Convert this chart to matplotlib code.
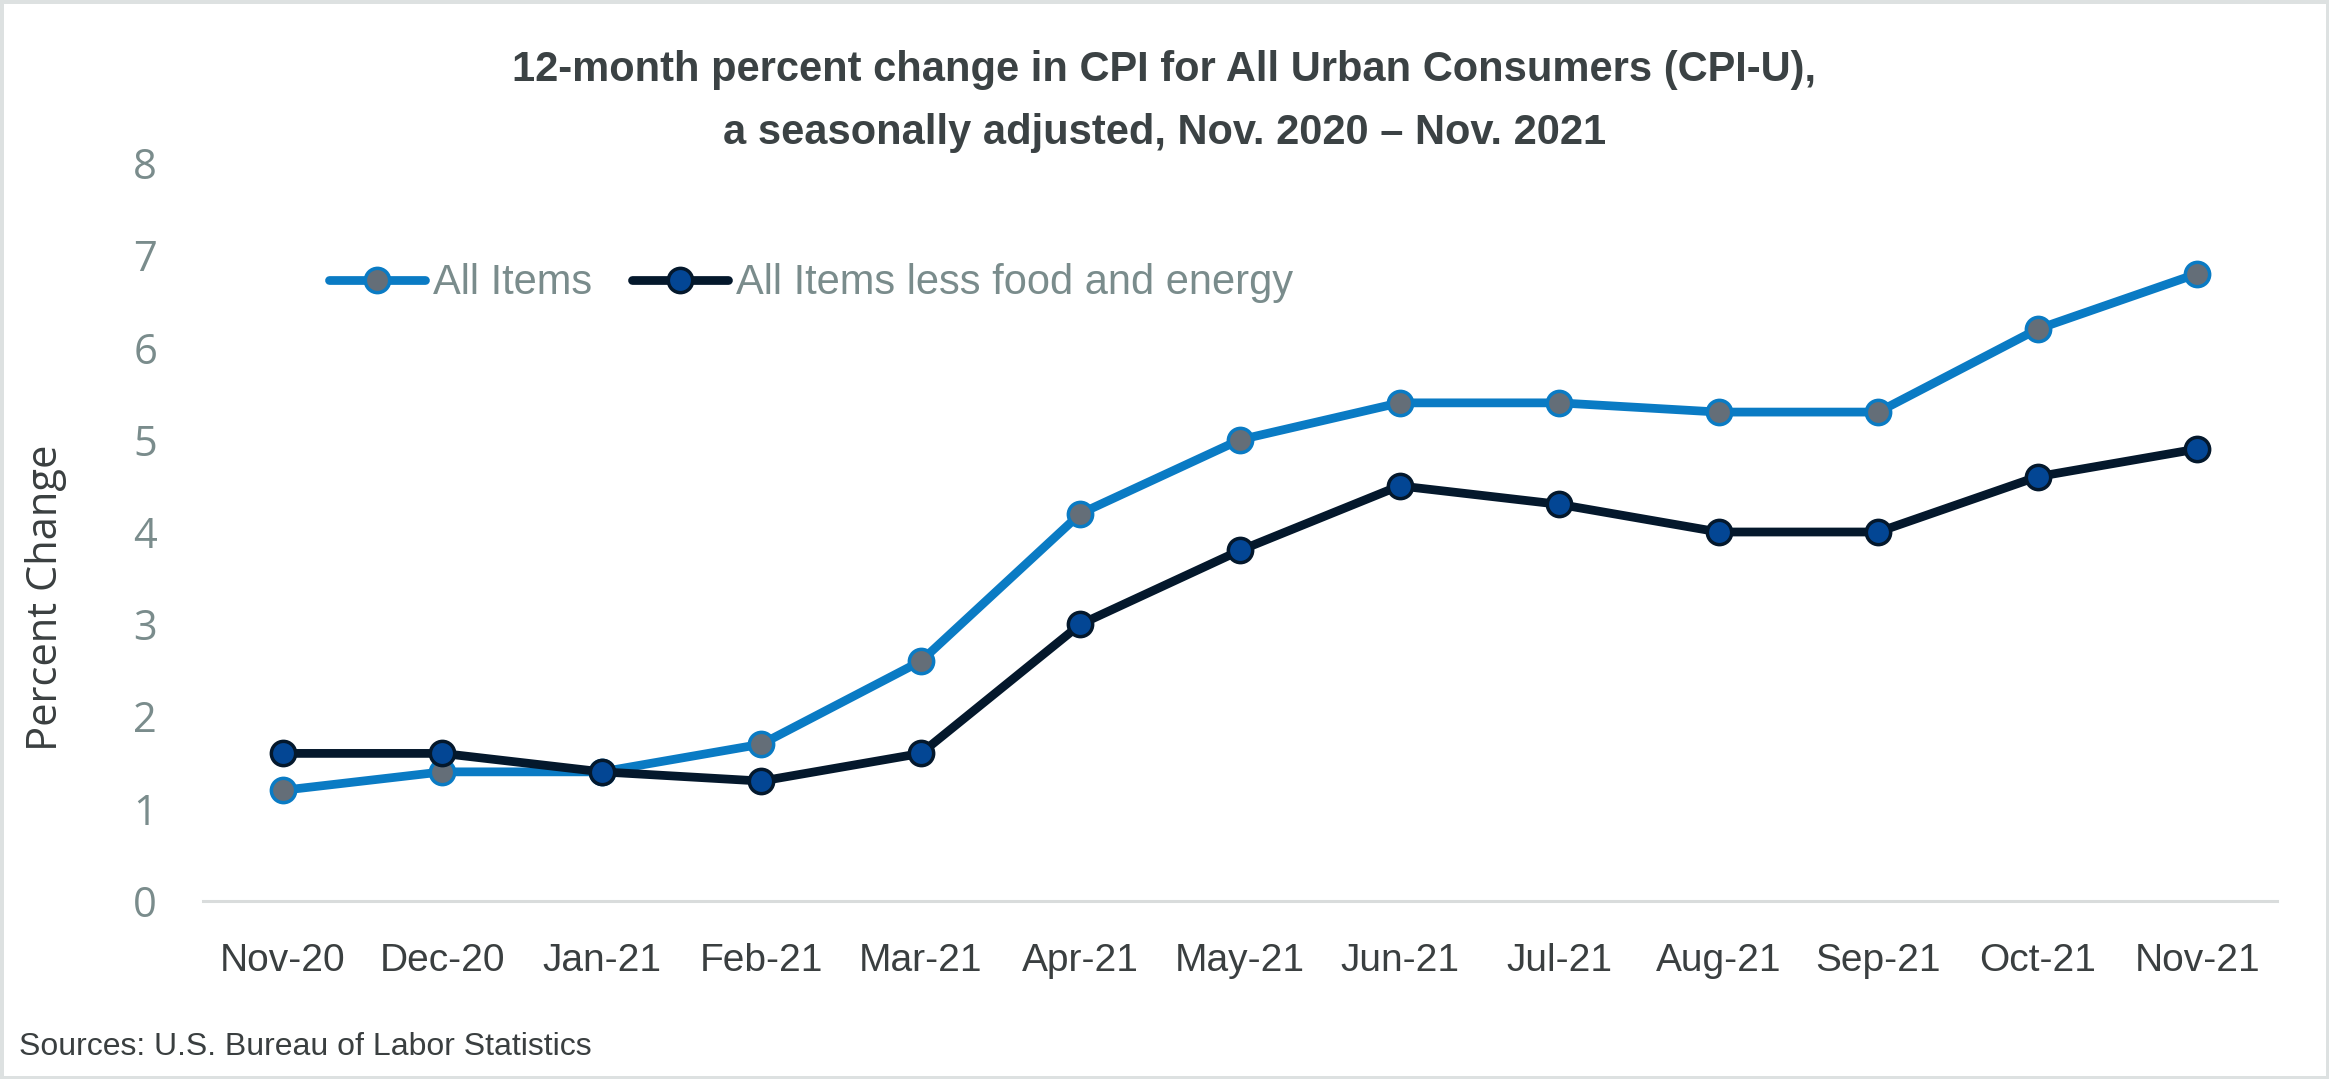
import matplotlib
matplotlib.use("Agg")
import matplotlib.pyplot as plt
from matplotlib.patches import Rectangle

months = ["Nov-20", "Dec-20", "Jan-21", "Feb-21", "Mar-21", "Apr-21", "May-21",
          "Jun-21", "Jul-21", "Aug-21", "Sep-21", "Oct-21", "Nov-21"]
all_items = [1.2, 1.4, 1.4, 1.7, 2.6, 4.2, 5.0, 5.4, 5.4, 5.3, 5.3, 6.2, 6.8]
core_items = [1.6, 1.6, 1.4, 1.3, 1.6, 3.0, 3.8, 4.5, 4.3, 4.0, 4.0, 4.6, 4.9]
yticks = [0, 1, 2, 3, 4, 5, 6, 7, 8]

narrow = "Liberation Sans"
plain = "Open Sans"

fig = plt.figure(figsize=(23.29, 10.79), dpi=100)
ax = fig.add_axes([203 / 2329, 1 - 901 / 1079, (2277 - 203) / 2329, (901 - 163) / 1079])

x = list(range(len(months)))
ax.plot(x, all_items, color="#0a7bc4", lw=6.3, marker="o", ms=17.5,
        mfc="#646e78", mec="#0a7bc4", mew=2.5, label="All Items", zorder=3,
        solid_capstyle="round")
ax.plot(x, core_items, color="#04182c", lw=6.3, marker="o", ms=17.5,
        mfc="#034694", mec="#04182c", mew=2.5, label="All Items less food and energy",
        zorder=3, solid_capstyle="round")

ax.set_xlim(-0.5, len(months) - 0.5)
ax.set_ylim(0, 8)
ax.set_yticks(yticks)
ax.set_yticklabels([str(v) for v in yticks], fontfamily=plain, fontsize=30, color="#7a8c8c")
ax.set_xticks(x)
ax.set_xticklabels(months, fontfamily=narrow, fontsize=28, color="#3a3f40")
ax.tick_params(axis="y", length=0, pad=33)
ax.tick_params(axis="x", length=0, pad=30)
for s in ["top", "right", "left"]:
    ax.spines[s].set_visible(False)
ax.spines["bottom"].set_color("#d9dcdc")
ax.spines["bottom"].set_linewidth(2.2)

ax.set_ylabel("Percent Change", fontfamily=plain, fontsize=30, color="#3a3f40")
ax.yaxis.set_label_coords(-0.0655, 0.4106)

leg = ax.legend(loc="center left", bbox_to_anchor=(126 / 2074, 0.837), ncol=2, frameon=False,
                prop={"family": narrow, "size": 30}, handlelength=2.3,
                handletextpad=0.2, columnspacing=0.95, borderaxespad=0, borderpad=0)
for t in leg.get_texts():
    t.set_color("#7a8c8c")

fig.text(0.5, 1 - 70 / 1079, "12-month percent change in CPI for All Urban Consumers (CPI-U),",
         ha="center", va="center", fontfamily=narrow, fontweight="bold", fontsize=30, color="#3b4244")
fig.text(0.5, 1 - 133 / 1079, "a seasonally adjusted, Nov. 2020 \u2013 Nov. 2021",
         ha="center", va="center", fontfamily=narrow, fontweight="bold", fontsize=30, color="#3b4244")
fig.text(19 / 2329, 1 - 1047 / 1079, "Sources: U.S. Bureau of Labor Statistics",
         ha="left", va="center", fontfamily=narrow, fontsize=23, color="#3a3f40")

fig.patches.append(Rectangle((0, 0), 1, 1, transform=fig.transFigure, fill=False,
                             edgecolor="#dde1e1", linewidth=5, zorder=10))

fig.savefig("out.png", dpi=100, facecolor="white")
